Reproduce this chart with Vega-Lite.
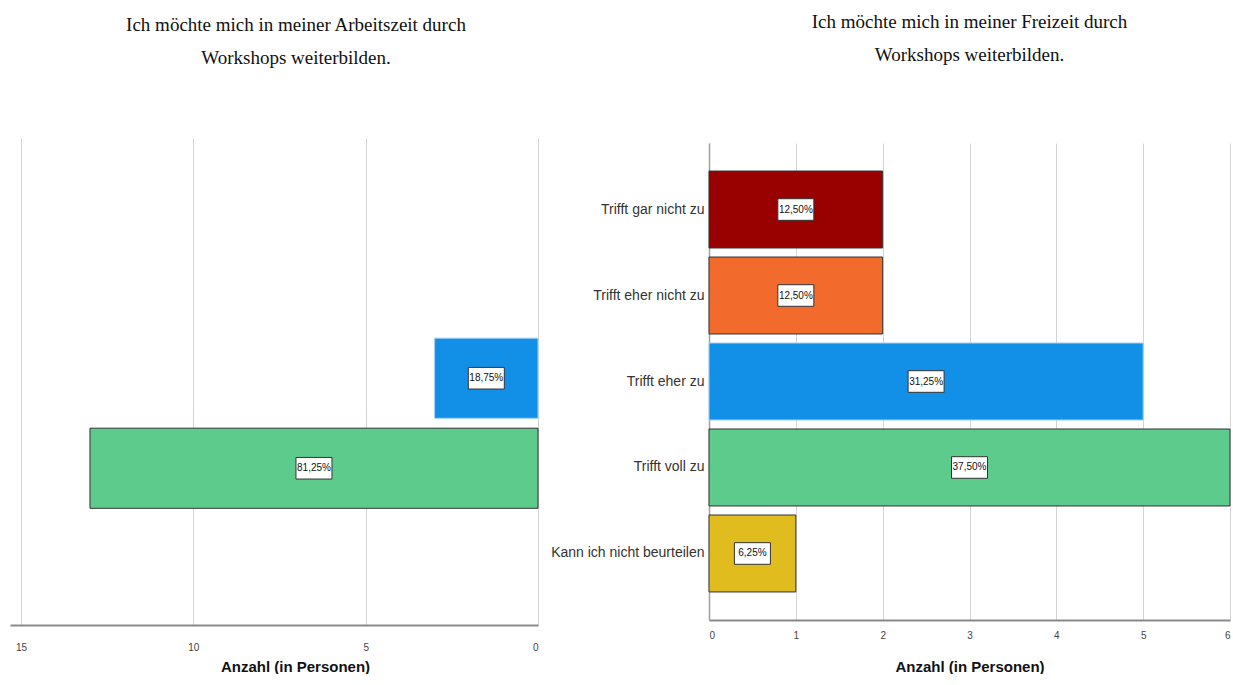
{
  "$schema": "https://vega.github.io/schema/vega-lite/v6.json",
  "background": "white",
  "padding": {"left": 10, "top": 13, "right": 0, "bottom": 0},
  "autosize": {"type": "pad"},
  "spacing": 171,
  "bounds": "flush",
  "center": true,
  "config": {
    "view": {"stroke": null},
    "title": {"font": "Liberation Serif", "fontSize": 19, "fontWeight": "normal", "color": "#111", "lineHeight": 33, "anchor": "middle"},
    "axis": {"labelFont": "Liberation Sans", "labelFontSize": 10, "labelColor": "#444", "titleFont": "Liberation Sans", "titleFontSize": 15, "titleFontWeight": "bold", "titleColor": "#111", "gridColor": "#d4d4d4", "gridWidth": 1, "domainColor": "#8a8a8a", "domainWidth": 2, "ticks": false}
  },
  "datasets": {
    "arbeitszeit": [
      {"cat": "Trifft eher zu", "n": 3, "pct": "18,75%"},
      {"cat": "Trifft voll zu", "n": 13, "pct": "81,25%"}
    ],
    "freizeit": [
      {"cat": "Trifft gar nicht zu", "n": 2, "pct": "12,50%"},
      {"cat": "Trifft eher nicht zu", "n": 2, "pct": "12,50%"},
      {"cat": "Trifft eher zu", "n": 5, "pct": "31,25%"},
      {"cat": "Trifft voll zu", "n": 6, "pct": "37,50%"},
      {"cat": "Kann ich nicht beurteilen", "n": 1, "pct": "6,25%"}
    ]
  },
  "hconcat": [
    {
      "width": 528,
      "height": 487,
      "title": {"text": ["Ich möchte mich in meiner Arbeitszeit durch", "Workshops weiterbilden."], "dx": 22, "offset": 70},
      "data": {"name": "arbeitszeit"},
      "transform": [{"calculate": "datum.n / 2", "as": "mid"}],
      "encoding": {
        "y": {"field": "cat", "type": "nominal", "sort": null,
          "scale": {"domain": ["Trifft gar nicht zu", "Trifft eher nicht zu", "Trifft eher zu", "Trifft voll zu", "Kann ich nicht beurteilen"], "paddingInner": 0.11, "paddingOuter": 0.26, "align": 0.43},
          "axis": null}
      },
      "layer": [
        {
          "mark": {"type": "bar", "strokeWidth": 1},
          "encoding": {
            "x": {"field": "n", "type": "quantitative", "title": "Anzahl (in Personen)",
              "scale": {"domain": [0, 15.32], "reverse": true, "nice": false, "zero": true},
              "axis": {"values": [0, 5, 10, 15], "format": "d", "labelPadding": 17, "titlePadding": 7, "titleX": 285}},
            "color": {"field": "cat", "type": "nominal", "legend": null,
              "scale": {"domain": ["Trifft gar nicht zu", "Trifft eher nicht zu", "Trifft eher zu", "Trifft voll zu", "Kann ich nicht beurteilen"], "range": ["#990000", "#F26A2C", "#1290E8", "#5DCB8B", "#E0BC1E"]}},
            "stroke": {"field": "cat", "type": "nominal", "legend": null,
              "scale": {"domain": ["Trifft gar nicht zu", "Trifft eher nicht zu", "Trifft eher zu", "Trifft voll zu", "Kann ich nicht beurteilen"], "range": ["#333333", "#333333", "#9fd0f5", "#333333", "#333333"]}}
          }
        },
        {
          "mark": {"type": "point", "shape": "M-1,-0.6H1V0.6H-1Z", "filled": true, "fill": "white", "stroke": "#333", "strokeWidth": 1, "size": 1296, "opacity": 1},
          "encoding": {"x": {"field": "mid", "type": "quantitative", "title": "Anzahl (in Personen)"}}
        },
        {
          "mark": {"type": "text", "font": "Liberation Sans", "fontSize": 10, "color": "#111"},
          "encoding": {"x": {"field": "mid", "type": "quantitative", "title": "Anzahl (in Personen)"}, "text": {"field": "pct"}}
        }
      ]
    },
    {
      "width": 521,
      "height": 477,
      "title": {"text": ["Ich möchte mich in meiner Freizeit durch", "Workshops weiterbilden."], "offset": 78},
      "data": {"name": "freizeit"},
      "transform": [{"calculate": "datum.n / 2", "as": "mid"}],
      "encoding": {
        "y": {"field": "cat", "type": "nominal", "sort": null,
          "scale": {"domain": ["Trifft gar nicht zu", "Trifft eher nicht zu", "Trifft eher zu", "Trifft voll zu", "Kann ich nicht beurteilen"], "paddingInner": 0.105, "paddingOuter": 0.326, "align": 0.5},
          "axis": {"title": null, "labelFont": "Liberation Sans", "labelFontSize": 14, "labelColor": "#333", "labelPadding": 5, "domainColor": "#a0a0a0", "domainWidth": 1.5, "grid": false}}
      },
      "layer": [
        {
          "mark": {"type": "bar", "strokeWidth": 1},
          "encoding": {
            "x": {"field": "n", "type": "quantitative", "title": "Anzahl (in Personen)",
              "scale": {"domain": [0, 6], "nice": false},
              "axis": {"values": [0, 1, 2, 3, 4, 5, 6], "format": "d", "labelPadding": 10, "titlePadding": 19}},
            "color": {"field": "cat", "type": "nominal", "legend": null,
              "scale": {"domain": ["Trifft gar nicht zu", "Trifft eher nicht zu", "Trifft eher zu", "Trifft voll zu", "Kann ich nicht beurteilen"], "range": ["#990000", "#F26A2C", "#1290E8", "#5DCB8B", "#E0BC1E"]}},
            "stroke": {"field": "cat", "type": "nominal", "legend": null,
              "scale": {"domain": ["Trifft gar nicht zu", "Trifft eher nicht zu", "Trifft eher zu", "Trifft voll zu", "Kann ich nicht beurteilen"], "range": ["#333333", "#333333", "#9fd0f5", "#333333", "#333333"]}}
          }
        },
        {
          "mark": {"type": "point", "shape": "M-1,-0.6H1V0.6H-1Z", "filled": true, "fill": "white", "stroke": "#333", "strokeWidth": 1, "size": 1296, "opacity": 1},
          "encoding": {"x": {"field": "mid", "type": "quantitative", "title": "Anzahl (in Personen)"}}
        },
        {
          "mark": {"type": "text", "font": "Liberation Sans", "fontSize": 10, "color": "#111"},
          "encoding": {"x": {"field": "mid", "type": "quantitative", "title": "Anzahl (in Personen)"}, "text": {"field": "pct"}}
        }
      ]
    }
  ]
}
